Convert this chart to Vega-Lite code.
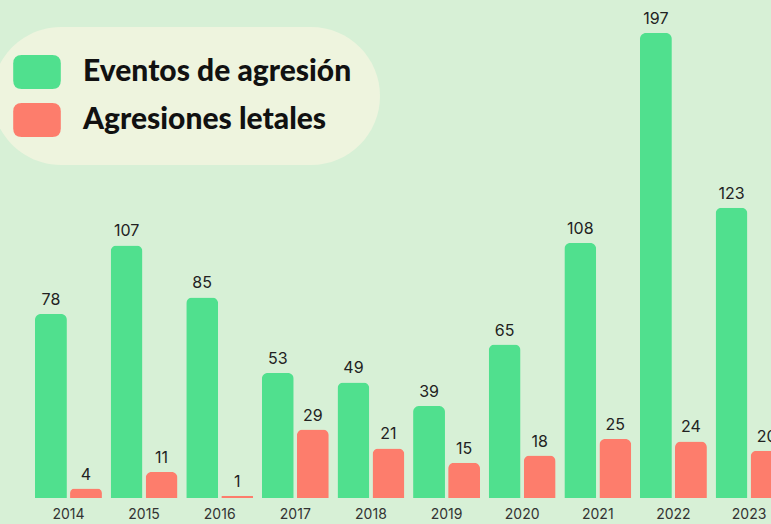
{
  "$schema": "https://vega.github.io/schema/vega-lite/v6.json",
  "width": 771,
  "height": 524,
  "autosize": {"type": "none"},
  "padding": 0,
  "background": "#d7f0d6",
  "config": {"view": {"stroke": null}, "font": "Inter"},
  "data": {
    "values": [
      {"year": "2014", "serie": "Eventos de agresión", "value": 78},
      {"year": "2014", "serie": "Agresiones letales", "value": 4},
      {"year": "2015", "serie": "Eventos de agresión", "value": 107},
      {"year": "2015", "serie": "Agresiones letales", "value": 11},
      {"year": "2016", "serie": "Eventos de agresión", "value": 85},
      {"year": "2016", "serie": "Agresiones letales", "value": 1},
      {"year": "2017", "serie": "Eventos de agresión", "value": 53},
      {"year": "2017", "serie": "Agresiones letales", "value": 29},
      {"year": "2018", "serie": "Eventos de agresión", "value": 49},
      {"year": "2018", "serie": "Agresiones letales", "value": 21},
      {"year": "2019", "serie": "Eventos de agresión", "value": 39},
      {"year": "2019", "serie": "Agresiones letales", "value": 15},
      {"year": "2020", "serie": "Eventos de agresión", "value": 65},
      {"year": "2020", "serie": "Agresiones letales", "value": 18},
      {"year": "2021", "serie": "Eventos de agresión", "value": 108},
      {"year": "2021", "serie": "Agresiones letales", "value": 25},
      {"year": "2022", "serie": "Eventos de agresión", "value": 197},
      {"year": "2022", "serie": "Agresiones letales", "value": 24},
      {"year": "2023", "serie": "Eventos de agresión", "value": 123},
      {"year": "2023", "serie": "Agresiones letales", "value": 20}
    ]
  },
  "encoding": {
    "x": {
      "field": "year",
      "type": "ordinal",
      "scale": {"range": [35, 782.5], "paddingInner": 0.115, "paddingOuter": 0},
      "axis": null
    }
  },
  "layer": [
    {
      "mark": {"type": "bar", "cornerRadiusTopLeft": 6, "cornerRadiusTopRight": 6},
      "encoding": {
        "xOffset": {
          "field": "serie",
          "type": "nominal",
          "scale": {"domain": ["Eventos de agresión", "Agresiones letales"], "paddingInner": 0.09, "paddingOuter": 0}
        },
        "y": {
          "field": "value",
          "type": "quantitative",
          "scale": {"domain": [-11, 211], "nice": false, "zero": false},
          "axis": null
        },
        "color": {
          "field": "serie",
          "type": "nominal",
          "scale": {"domain": ["Eventos de agresión", "Agresiones letales"], "range": ["#50e08e", "#fd7d6c"]},
          "legend": {
            "title": null,
            "orient": "none",
            "legendX": -8,
            "legendY": 27,
            "padding": 28,
            "fillColor": "#eef4de",
            "cornerRadius": 70,
            "symbolType": "M-0.9,-1 L0.9,-1 Q1.4,-1 1.4,-0.5 L1.4,0.5 Q1.4,1 0.9,1 L-0.9,1 Q-1.4,1 -1.4,0.5 L-1.4,-0.5 Q-1.4,-1 -0.9,-1 Z",
            "symbolSize": 1156,
            "symbolStrokeWidth": 0,
            "symbolOpacity": 1,
            "labelFont": "Lato",
            "labelFontWeight": 900,
            "labelFontSize": 30,
            "labelColor": "#111111",
            "labelOffset": 29,
            "rowPadding": 14,
            "labelLimit": 400
          }
        }
      }
    },
    {
      "mark": {"type": "text", "baseline": "bottom", "dy": -6, "fontSize": 16, "color": "#222222"},
      "encoding": {
        "xOffset": {"field": "serie", "type": "nominal", "scale": {"domain": ["Eventos de agresión", "Agresiones letales"], "paddingInner": 0.09, "paddingOuter": 0}},
        "y": {"field": "value", "type": "quantitative"},
        "text": {"field": "value", "type": "quantitative"}
      }
    },
    {
      "transform": [{"filter": "datum.serie == 'Eventos de agresión'"}],
      "mark": {"type": "text", "baseline": "middle", "dy": 17, "fontSize": 14, "color": "#333333"},
      "encoding": {
        "y": {"datum": 0, "type": "quantitative"},
        "text": {"field": "year", "type": "nominal"}
      }
    }
  ]
}
